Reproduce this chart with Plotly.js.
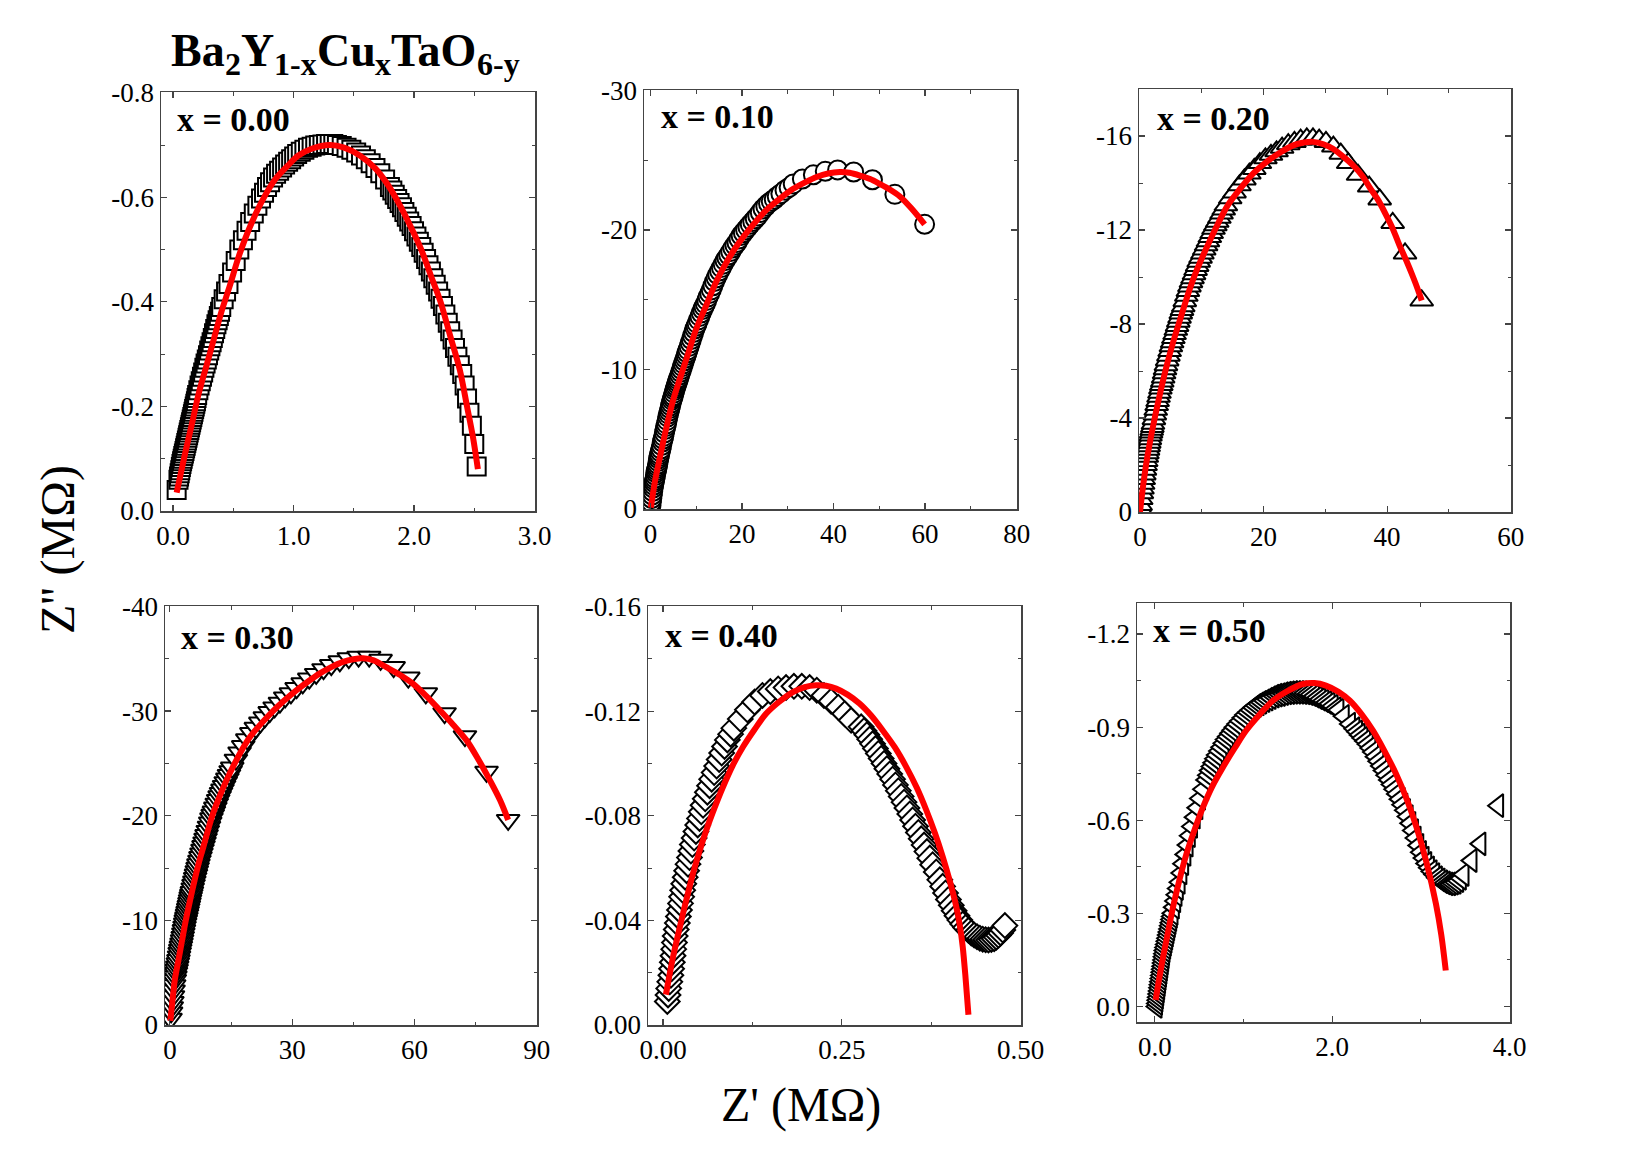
<!DOCTYPE html>
<html><head><meta charset="utf-8">
<script src="https://cdn.plot.ly/plotly-3.0.1.min.js"></script>
<style>html,body{margin:0;padding:0;background:#fff;}#chart{width:1644px;height:1149px;}</style>
</head><body><div id="chart"></div>
<script>
// ---------- DATA, [Z', Z''] pairs in MOhm ----------
// x = 0.00 measured points
const pts1=[[0.03,-0.040],[0.045,-0.060],[0.05,-0.066],[0.055,-0.072],[0.06,-0.078],[0.065,-0.084],[0.07,-0.09],[0.075,-0.095],[0.08,-0.10],[0.085,-0.105],[0.09,-0.11],[0.095,-0.115],[0.10,-0.12],[0.105,-0.125],[0.11,-0.13],[0.115,-0.135],[0.12,-0.14],[0.125,-0.145],[0.13,-0.15],[0.135,-0.155],[0.14,-0.16],[0.145,-0.165],[0.15,-0.17],[0.155,-0.175],[0.16,-0.18],[0.165,-0.185],[0.17,-0.19],[0.175,-0.195],[0.18,-0.20],[0.185,-0.205],[0.19,-0.21],[0.195,-0.216],[0.20,-0.222],[0.21,-0.231],[0.22,-0.24],[0.23,-0.248],[0.24,-0.257],[0.25,-0.265],[0.26,-0.274],[0.27,-0.282],[0.28,-0.29],[0.29,-0.298],[0.30,-0.307],[0.31,-0.315],[0.32,-0.323],[0.33,-0.331],[0.34,-0.34],[0.35,-0.348],[0.36,-0.357],[0.37,-0.365],[0.38,-0.373],[0.39,-0.381],[0.40,-0.39],[0.42,-0.405],[0.44,-0.42],[0.46,-0.434],[0.49,-0.456],[0.52,-0.478],[0.55,-0.50],[0.58,-0.518],[0.61,-0.536],[0.64,-0.553],[0.67,-0.569],[0.70,-0.584],[0.73,-0.598],[0.755,-0.609],[0.78,-0.62],[0.805,-0.629],[0.83,-0.638],[0.855,-0.645],[0.88,-0.651],[0.905,-0.657],[0.93,-0.663],[0.955,-0.668],[0.98,-0.673],[1.005,-0.678],[1.03,-0.683],[1.06,-0.687],[1.09,-0.691],[1.12,-0.695],[1.15,-0.697],[1.18,-0.699],[1.21,-0.700],[1.24,-0.701],[1.27,-0.702],[1.30,-0.702],[1.33,-0.702],[1.36,-0.700],[1.40,-0.698],[1.44,-0.695],[1.48,-0.691],[1.52,-0.686],[1.56,-0.680],[1.60,-0.673],[1.64,-0.665],[1.68,-0.656],[1.72,-0.646],[1.76,-0.634],[1.80,-0.620],[1.82,-0.613],[1.84,-0.605],[1.86,-0.597],[1.88,-0.589],[1.90,-0.581],[1.92,-0.572],[1.94,-0.563],[1.96,-0.554],[1.98,-0.545],[2.00,-0.535],[2.02,-0.525],[2.04,-0.515],[2.06,-0.505],[2.08,-0.494],[2.10,-0.482],[2.12,-0.47],[2.14,-0.458],[2.16,-0.445],[2.18,-0.433],[2.20,-0.42],[2.22,-0.406],[2.24,-0.392],[2.26,-0.376],[2.28,-0.36],[2.30,-0.344],[2.32,-0.328],[2.34,-0.312],[2.36,-0.295],[2.38,-0.279],[2.40,-0.262],[2.42,-0.24],[2.44,-0.215],[2.46,-0.188],[2.48,-0.163],[2.50,-0.128],[2.52,-0.085]];
// x = 0.00 fitted curve
const f1x=[0.03,0.10,0.16,0.213,0.28,0.34,0.40,0.47,0.55,0.65,0.755,0.85,0.95,1.04,1.15,1.30,1.42,1.55,1.68,1.78,1.87,1.97,2.06,2.14,2.22,2.30,2.38,2.44,2.49,2.53];
const f1y=[-0.035,-0.11,-0.17,-0.225,-0.28,-0.33,-0.38,-0.43,-0.49,-0.55,-0.60,-0.635,-0.66,-0.68,-0.693,-0.70,-0.695,-0.68,-0.655,-0.625,-0.59,-0.545,-0.50,-0.45,-0.40,-0.335,-0.27,-0.20,-0.14,-0.08];

// x = 0.10
const pts2=[[0.1,-0.25],[0.2,-0.5],[0.3,-0.75],[0.4,-1.0],[0.5,-1.25],[0.6,-1.5],[0.7,-1.7],[0.8,-1.9],[0.9,-2.05],[1.0,-2.2],[1.1,-2.4],[1.2,-2.6],[1.3,-2.75],[1.4,-2.9],[1.5,-3.05],[1.6,-3.2],[1.7,-3.4],[1.8,-3.6],[1.9,-3.75],[2.0,-3.9],[2.15,-4.1],[2.3,-4.3],[2.45,-4.55],[2.6,-4.8],[2.75,-5.0],[2.9,-5.2],[3.05,-5.45],[3.2,-5.7],[3.35,-5.9],[3.5,-6.1],[3.65,-6.35],[3.8,-6.6],[3.95,-6.8],[4.1,-7.0],[4.25,-7.2],[4.4,-7.4],[4.55,-7.6],[4.7,-7.8],[4.85,-7.95],[5.0,-8.1],[5.15,-8.3],[5.3,-8.5],[5.45,-8.65],[5.6,-8.8],[5.75,-8.95],[5.9,-9.1],[6.05,-9.25],[6.2,-9.4],[6.4,-9.6],[6.6,-9.8],[6.8,-10.0],[7.0,-10.2],[7.2,-10.4],[7.4,-10.6],[7.6,-10.8],[7.8,-11.0],[8.0,-11.2],[8.2,-11.4],[8.45,-11.65],[8.7,-11.9],[8.95,-12.15],[9.2,-12.4],[9.45,-12.65],[9.7,-12.9],[9.95,-13.1],[10.2,-13.3],[10.5,-13.55],[10.8,-13.8],[11.1,-14.05],[11.4,-14.3],[11.7,-14.5],[12.0,-14.7],[12.3,-14.95],[12.6,-15.2],[12.95,-15.45],[13.3,-15.7],[13.65,-16.0],[14.0,-16.3],[14.35,-16.55],[14.7,-16.8],[15.1,-17.05],[15.5,-17.3],[15.9,-17.55],[16.3,-17.8],[16.7,-18.0],[17.1,-18.2],[17.55,-18.45],[18.0,-18.7],[18.45,-18.9],[18.9,-19.1],[19.35,-19.35],[19.8,-19.6],[20.3,-19.8],[20.8,-20.0],[21.3,-20.2],[21.8,-20.4],[22.35,-20.6],[22.9,-20.8],[23.45,-21.0],[24.0,-21.25],[24.6,-21.5],[25.2,-21.7],[25.8,-21.9],[26.4,-22.05],[27.05,-22.2],[27.7,-22.4],[28.5,-22.6],[29.4,-22.85],[30.3,-23.05],[31.2,-23.3],[33.2,-23.65],[35.6,-23.95],[38.2,-24.2],[40.9,-24.3],[44.4,-24.15],[48.5,-23.6],[53.4,-22.55],[59.9,-20.4]];
const f2x=[0.1,1,2,3.5,5,6.4,8,10,12,14.4,17,19.5,22.5,25.4,28.5,31.2,34,36.3,38.8,41.4,43.5,45.8,48,50.1,52.3,54.5,57,59.9];
const f2y=[-0.1,-2.0,-3.6,-5.85,-7.85,-9.3,-10.9,-12.9,-14.45,-16.3,-17.9,-19.15,-20.4,-21.45,-22.3,-22.95,-23.45,-23.8,-24.05,-24.15,-24.1,-23.9,-23.65,-23.3,-22.9,-22.4,-21.55,-20.4];

// x = 0.20
const pts3=[[0.05,-0.15],[0.1,-0.3],[0.2,-0.55],[0.3,-0.8],[0.4,-1.0],[0.5,-1.2],[0.6,-1.4],[0.7,-1.6],[0.8,-1.8],[0.9,-2.0],[1.0,-2.17],[1.1,-2.35],[1.2,-2.5],[1.3,-2.65],[1.4,-2.8],[1.5,-2.95],[1.6,-3.1],[1.7,-3.25],[1.8,-3.38],[1.9,-3.5],[2.0,-3.62],[2.1,-3.75],[2.25,-3.95],[2.4,-4.15],[2.55,-4.35],[2.7,-4.55],[2.85,-4.72],[3.0,-4.9],[3.15,-5.07],[3.3,-5.25],[3.45,-5.4],[3.6,-5.55],[3.75,-5.72],[3.9,-5.9],[4.05,-6.07],[4.2,-6.25],[4.4,-6.45],[4.6,-6.65],[4.8,-6.85],[5.0,-7.05],[5.2,-7.22],[5.4,-7.4],[5.6,-7.57],[5.8,-7.75],[6.0,-7.92],[6.2,-8.1],[6.4,-8.27],[6.6,-8.45],[6.8,-8.6],[7.0,-8.75],[7.25,-8.97],[7.5,-9.2],[7.75,-9.4],[8.0,-9.6],[8.25,-9.78],[8.5,-9.95],[8.75,-10.12],[9.0,-10.3],[9.25,-10.47],[9.5,-10.65],[9.8,-10.82],[10.1,-11.0],[10.4,-11.17],[10.7,-11.35],[11.0,-11.52],[11.3,-11.7],[11.6,-11.87],[11.9,-12.05],[12.2,-12.2],[12.5,-12.35],[12.85,-12.52],[13.2,-12.7],[13.55,-12.87],[13.9,-13.05],[14.6,-13.35],[15.3,-13.6],[16.1,-13.9],[16.9,-14.15],[17.7,-14.4],[18.5,-14.6],[19.4,-14.85],[20.3,-15.05],[21.2,-15.2],[22.1,-15.35],[23.0,-15.5],[24.0,-15.65],[25.0,-15.75],[26.0,-15.85],[27.0,-15.9],[28.0,-15.9],[29.0,-15.85],[30.1,-15.75],[31.3,-15.55],[32.5,-15.25],[33.7,-14.85],[35.3,-14.35],[37.1,-13.85],[38.8,-13.3],[40.9,-12.3],[42.9,-11.0],[45.6,-9.0]];
const f3x=[0,0.5,1.1,2.0,3.0,4.3,5.5,6.5,8,9.2,10.7,12.4,14.2,16.2,18.3,20.5,22.7,24.8,26.5,28.0,29.7,31.3,33,34.5,36,37.2,38.6,39.9,41,42,43.1,44.2,45,45.6];
const f3y=[0,-1.1,-2.2,-3.5,-4.75,-6.2,-7.35,-8.2,-9.45,-10.3,-11.2,-12.15,-13.05,-13.75,-14.4,-14.9,-15.3,-15.6,-15.72,-15.75,-15.65,-15.45,-15.1,-14.75,-14.3,-13.8,-13.25,-12.6,-12.0,-11.35,-10.7,-10.0,-9.45,-9.0];

// x = 0.30
const pts4=[[0.15,-0.6],[0.3,-1.2],[0.45,-1.7],[0.6,-2.2],[0.75,-2.75],[0.9,-3.3],[1.05,-3.8],[1.2,-4.3],[1.35,-4.65],[1.5,-5.0],[1.65,-5.3],[1.8,-5.6],[1.95,-5.9],[2.1,-6.2],[2.25,-6.55],[2.4,-6.9],[2.55,-7.2],[2.7,-7.5],[2.85,-7.8],[3.0,-8.1],[3.15,-8.42],[3.3,-8.75],[3.45,-9.07],[3.6,-9.4],[3.75,-9.7],[3.9,-10.0],[4.05,-10.27],[4.2,-10.55],[4.35,-10.82],[4.5,-11.1],[4.65,-11.37],[4.8,-11.65],[4.95,-11.92],[5.1,-12.2],[5.25,-12.45],[5.4,-12.7],[5.6,-13.05],[5.8,-13.4],[6.0,-13.72],[6.2,-14.05],[6.4,-14.37],[6.6,-14.7],[6.8,-15.02],[7.0,-15.35],[7.25,-15.7],[7.5,-16.05],[7.75,-16.4],[8.0,-16.75],[8.25,-17.1],[8.5,-17.45],[8.75,-17.8],[9.0,-18.15],[9.3,-18.55],[9.6,-18.95],[9.9,-19.35],[10.2,-19.75],[10.5,-20.08],[10.8,-20.4],[11.15,-20.78],[11.5,-21.15],[11.85,-21.5],[12.2,-21.85],[12.55,-22.17],[12.9,-22.5],[13.3,-22.85],[13.7,-23.2],[14.1,-23.55],[14.5,-23.9],[14.9,-24.25],[15.3,-24.6],[16.2,-25.35],[17.1,-26.05],[18.0,-26.65],[19.0,-27.3],[20.0,-27.9],[21.1,-28.4],[22.2,-28.9],[23.3,-29.4],[24.5,-29.9],[25.7,-30.35],[27.0,-30.8],[28.3,-31.3],[29.7,-31.7],[31.1,-32.2],[32.6,-32.65],[34.2,-33.1],[35.9,-33.55],[37.7,-34.0],[39.6,-34.4],[41.7,-34.75],[43.9,-35.05],[46.3,-35.2],[48.9,-35.2],[51.7,-34.9],[54.9,-34.2],[58.5,-33.2],[62.8,-31.7],[67.4,-29.8],[72.4,-27.6],[77.7,-24.2],[83.0,-19.6]];
const f4x=[0.1,0.6,1.2,2.0,2.9,3.9,5.0,6.1,7.1,8.2,9.3,10.4,12.1,13.9,15.9,17.7,19.6,22.4,25.3,28.2,31.1,34.0,36.8,39.6,42.5,45.0,47.4,50.0,53.1,56.5,59.7,63.0,66.2,69.5,72.8,75.8,78.5,81.0,83.0];
const f4y=[-0.4,-2.2,-4.3,-6.0,-7.9,-10.0,-12.0,-13.9,-15.5,-17.0,-18.55,-20.0,-21.75,-23.4,-25.0,-26.3,-27.5,-28.8,-30.0,-31.05,-32.0,-32.85,-33.6,-34.2,-34.7,-34.95,-35.05,-34.85,-34.2,-33.45,-32.6,-31.4,-30.1,-28.7,-27.2,-25.3,-23.4,-21.5,-19.6];

// x = 0.40
const pts5=[[0.006,-0.009],[0.007,-0.0115],[0.008,-0.014],[0.0095,-0.0165],[0.011,-0.019],[0.012,-0.0215],[0.013,-0.024],[0.014,-0.0265],[0.015,-0.029],[0.016,-0.0315],[0.017,-0.034],[0.0185,-0.0365],[0.020,-0.039],[0.0215,-0.0415],[0.023,-0.044],[0.0245,-0.0465],[0.026,-0.049],[0.0275,-0.0515],[0.029,-0.054],[0.031,-0.0565],[0.033,-0.059],[0.035,-0.0615],[0.037,-0.064],[0.039,-0.0665],[0.041,-0.069],[0.0435,-0.0715],[0.046,-0.074],[0.0485,-0.0765],[0.051,-0.079],[0.0535,-0.0815],[0.056,-0.084],[0.059,-0.0865],[0.062,-0.089],[0.065,-0.0915],[0.068,-0.094],[0.0715,-0.0965],[0.075,-0.099],[0.0785,-0.1015],[0.082,-0.104],[0.086,-0.1065],[0.090,-0.109],[0.0945,-0.1112],[0.099,-0.1135],[0.108,-0.117],[0.118,-0.1205],[0.128,-0.1235],[0.139,-0.126],[0.150,-0.1275],[0.161,-0.1285],[0.172,-0.129],[0.183,-0.1295],[0.194,-0.1295],[0.205,-0.129],[0.215,-0.128],[0.225,-0.126],[0.235,-0.1238],[0.245,-0.1215],[0.254,-0.119],[0.263,-0.1165],[0.277,-0.114],[0.281,-0.1125],[0.285,-0.111],[0.289,-0.1093],[0.293,-0.1075],[0.297,-0.1057],[0.301,-0.1038],[0.305,-0.1019],[0.309,-0.100],[0.313,-0.098],[0.317,-0.096],[0.321,-0.094],[0.325,-0.0918],[0.329,-0.0896],[0.333,-0.0874],[0.337,-0.0852],[0.341,-0.083],[0.345,-0.0807],[0.349,-0.0784],[0.353,-0.076],[0.357,-0.0736],[0.361,-0.0712],[0.365,-0.0688],[0.369,-0.0663],[0.373,-0.0638],[0.377,-0.0613],[0.382,-0.0585],[0.387,-0.0555],[0.391,-0.053],[0.395,-0.0505],[0.399,-0.048],[0.403,-0.0458],[0.407,-0.0437],[0.411,-0.0418],[0.415,-0.0401],[0.419,-0.0386],[0.423,-0.0373],[0.427,-0.0362],[0.431,-0.0352],[0.435,-0.0344],[0.439,-0.0337],[0.443,-0.0332],[0.447,-0.0328],[0.451,-0.0326],[0.455,-0.0325],[0.459,-0.0327],[0.463,-0.033],[0.466,-0.0336],[0.469,-0.0343],[0.472,-0.0352],[0.475,-0.0363],[0.478,-0.038]];
const f5x=[0.004,0.009,0.014,0.021,0.028,0.035,0.042,0.051,0.0605,0.072,0.0838,0.097,0.1117,0.128,0.144,0.162,0.1816,0.198,0.214,0.228,0.242,0.258,0.2747,0.291,0.307,0.324,0.34,0.355,0.368,0.38,0.391,0.401,0.41,0.415,0.419,0.423,0.427];
const f5y=[-0.0116,-0.019,-0.026,-0.0345,-0.0427,-0.0505,-0.058,-0.0665,-0.0745,-0.083,-0.091,-0.099,-0.1063,-0.113,-0.119,-0.1235,-0.1273,-0.1292,-0.1299,-0.1297,-0.1286,-0.1263,-0.1229,-0.1183,-0.1127,-0.1062,-0.0987,-0.0906,-0.0822,-0.0735,-0.0644,-0.055,-0.0453,-0.038,-0.030,-0.018,-0.0039];

// x = 0.50
const pts6=[[0.020,0.0],[0.025,-0.01],[0.030,-0.02],[0.035,-0.03],[0.040,-0.04],[0.045,-0.05],[0.050,-0.06],[0.055,-0.07],[0.060,-0.08],[0.065,-0.09],[0.070,-0.10],[0.075,-0.11],[0.080,-0.12],[0.085,-0.13],[0.090,-0.14],[0.095,-0.15],[0.100,-0.16],[0.105,-0.17],[0.110,-0.18],[0.1175,-0.19],[0.125,-0.20],[0.1325,-0.21],[0.140,-0.22],[0.1475,-0.23],[0.155,-0.24],[0.1625,-0.25],[0.170,-0.26],[0.1775,-0.27],[0.185,-0.28],[0.1925,-0.29],[0.200,-0.30],[0.215,-0.32],[0.23,-0.34],[0.245,-0.36],[0.26,-0.38],[0.28,-0.40],[0.30,-0.43],[0.32,-0.46],[0.345,-0.49],[0.37,-0.52],[0.395,-0.55],[0.42,-0.58],[0.45,-0.61],[0.48,-0.64],[0.51,-0.67],[0.545,-0.70],[0.58,-0.73],[0.60,-0.745],[0.62,-0.76],[0.64,-0.773],[0.66,-0.785],[0.68,-0.798],[0.70,-0.81],[0.725,-0.823],[0.75,-0.835],[0.775,-0.848],[0.80,-0.86],[0.825,-0.87],[0.85,-0.88],[0.875,-0.89],[0.90,-0.90],[0.93,-0.91],[0.96,-0.92],[0.99,-0.93],[1.02,-0.94],[1.05,-0.948],[1.08,-0.955],[1.11,-0.963],[1.14,-0.97],[1.17,-0.975],[1.20,-0.98],[1.235,-0.985],[1.27,-0.99],[1.305,-0.995],[1.34,-1.00],[1.375,-1.003],[1.41,-1.005],[1.445,-1.008],[1.48,-1.01],[1.515,-1.011],[1.55,-1.012],[1.585,-1.012],[1.62,-1.012],[1.655,-1.011],[1.69,-1.01],[1.725,-1.008],[1.76,-1.005],[1.795,-1.0],[1.83,-0.995],[1.865,-0.99],[1.90,-0.985],[1.935,-0.98],[1.97,-0.975],[2.005,-0.968],[2.04,-0.96],[2.07,-0.955],[2.13,-0.935],[2.20,-0.91],[2.25,-0.895],[2.28,-0.885],[2.31,-0.875],[2.34,-0.865],[2.37,-0.855],[2.40,-0.845],[2.43,-0.833],[2.46,-0.82],[2.49,-0.805],[2.52,-0.79],[2.55,-0.775],[2.58,-0.76],[2.61,-0.745],[2.64,-0.73],[2.67,-0.715],[2.70,-0.70],[2.73,-0.685],[2.76,-0.668],[2.79,-0.65],[2.82,-0.632],[2.85,-0.612],[2.88,-0.59],[2.91,-0.567],[2.94,-0.543],[2.97,-0.519],[3.00,-0.497],[3.03,-0.478],[3.06,-0.461],[3.09,-0.447],[3.12,-0.435],[3.15,-0.425],[3.18,-0.415],[3.21,-0.408],[3.24,-0.402],[3.27,-0.398],[3.30,-0.395],[3.33,-0.395],[3.36,-0.397],[3.39,-0.40],[3.42,-0.405],[3.45,-0.413],[3.48,-0.425],[3.57,-0.47],[3.67,-0.524],[3.87,-0.647]];
const f6x=[0.011,0.05,0.094,0.15,0.206,0.28,0.356,0.45,0.544,0.65,0.769,0.9,1.03,1.18,1.33,1.5,1.67,1.8,1.93,2.07,2.2,2.33,2.46,2.59,2.72,2.84,2.95,3.06,3.17,3.23,3.28];
const f6y=[-0.021,-0.09,-0.159,-0.24,-0.32,-0.41,-0.49,-0.57,-0.642,-0.71,-0.771,-0.832,-0.889,-0.94,-0.985,-1.017,-1.039,-1.042,-1.034,-1.014,-0.985,-0.942,-0.889,-0.823,-0.749,-0.668,-0.578,-0.467,-0.33,-0.23,-0.116];

// tick labels
const tx1=[0,1,2,3], tx1Text=['0.0','1.0','2.0','3.0'];
const ty1=[0,-0.2,-0.4,-0.6,-0.8], ty1Text=['0.0','-0.2','-0.4','-0.6','-0.8'];
const tx2=[0,20,40,60,80], tx2Text=['0','20','40','60','80'];
const ty2=[0,-10,-20,-30], ty2Text=['0','-10','-20','-30'];
const tx3=[0,20,40,60], tx3Text=['0','20','40','60'];
const ty3=[0,-4,-8,-12,-16], ty3Text=['0','-4','-8','-12','-16'];
const tx4=[0,30,60,90], tx4Text=['0','30','60','90'];
const ty4=[0,-10,-20,-30,-40], ty4Text=['0','-10','-20','-30','-40'];
const tx5=[0,0.25,0.5], tx5Text=['0.00','0.25','0.50'];
const ty5=[0,-0.04,-0.08,-0.12,-0.16], ty5Text=['0.00','-0.04','-0.08','-0.12','-0.16'];
const tx6=[0,2,4], tx6Text=['0.0','2.0','4.0'];
const ty6=[0,-0.3,-0.6,-0.9,-1.2], ty6Text=['0.0','-0.3','-0.6','-0.9','-1.2'];

const panelLabels=['x = 0.00','x = 0.10','x = 0.20','x = 0.30','x = 0.40','x = 0.50'];
// chemical formula Ba2Y1-xCuxTaO6-y : text pieces and whether each is a subscript
const titleParts=['Ba','2','Y','1-x','Cu','x','TaO','6-y'];
const titleIsSub=[false,true,false,true,false,true,false,true];
const xTitle="Z' (M\u03A9)";
const yTitle="Z'' (M\u03A9)";

// ---------- LAYOUT ----------
const W=1644,H=1149;
const FONT='"Liberation Serif","Times New Roman",Times,serif';
const colX=a=>a.map(v=>v[0]), colY=a=>a.map(v=>v[1]);
const panels=[
 {pts:pts1,fx:f1x,fy:f1y,sym:'square',size:18,box:[161,535,92,511],xr:[-0.1,3.004],yr:[0,-0.8015],xt:tx1,xtt:tx1Text,yt:ty1,ytt:ty1Text,xm:0.5,ym:0.1,lab:[175,131]},
 {pts:pts2,fx:f2x,fy:f2y,sym:'circle',size:19,box:[644,1017,90,509],xr:[-1.4,80.08],yr:[0,-30.03],xt:tx2,xtt:tx2Text,yt:ty2,ytt:ty2Text,xm:10,ym:5,lab:[659,129]},
 {pts:pts3,fx:f3x,fy:f3y,sym:'triangle-up',size:20,box:[1139,1511,89,512],xr:[-0.16,60.05],yr:[0,-18],xt:tx3,xtt:tx3Text,yt:ty3,ytt:ty3Text,xm:10,ym:2,lab:[1155,130]},
 {pts:pts4,fx:f4x,fy:f4y,sym:'triangle-down',size:20,box:[165,537,606,1025],xr:[-1.2,90.08],yr:[0,-40.04],xt:tx4,xtt:tx4Text,yt:ty4,ytt:ty4Text,xm:15,ym:5,lab:[179,649]},
 {pts:pts5,fx:f5x,fy:f5y,sym:'diamond',size:19,box:[648,1021,606,1025],xr:[-0.021,0.5005],yr:[0,-0.1602],xt:tx5,xtt:tx5Text,yt:ty5,ytt:ty5Text,xm:0.125,ym:0.02,lab:[663,647]},
 {pts:pts6,fx:f6x,fy:f6y,sym:'triangle-left',size:20,box:[1137,1510,603,1022],xr:[-0.2,4.004],yr:[0.05,-1.3],xt:tx6,xtt:tx6Text,yt:ty6,ytt:ty6Text,xm:1,ym:0.15,lab:[1151,642]}
];

const traces=[];
const layout={width:W,height:H,margin:{l:0,r:0,t:0,b:0},paper_bgcolor:'#fff',plot_bgcolor:'#fff',showlegend:false,annotations:[]};
const AX='#444';
panels.forEach((p,i)=>{
  const s=i===0?'':String(i+1);
  traces.push({type:'scatter',mode:'markers',x:colX(p.pts),y:colY(p.pts),xaxis:'x'+s,yaxis:'y'+s,
    marker:{symbol:p.sym,size:p.size,color:'#fff',line:{color:'#000',width:2.0}},hoverinfo:'skip'});
  traces.push({type:'scatter',mode:'lines',x:p.fx,y:p.fy,xaxis:'x'+s,yaxis:'y'+s,
    line:{color:'#ff0000',width:6,shape:'spline',smoothing:0.9},hoverinfo:'skip'});
  const common={showline:true,mirror:'allticks',linecolor:AX,linewidth:1.5,ticks:'inside',ticklen:6,tickwidth:1.2,tickcolor:AX,
    tickmode:'array',tickfont:{family:FONT,size:27,color:'#000'},showgrid:false,zeroline:false,fixedrange:true};
  layout['xaxis'+s]=Object.assign({},common,{domain:[p.box[0]/W,p.box[1]/W],range:p.xr,anchor:'y'+s,tickvals:p.xt,ticktext:p.xtt,
    minor:{tickmode:'linear',tick0:0,dtick:p.xm,ticks:'inside',ticklen:3.5,tickwidth:1,tickcolor:AX,showgrid:false}});
  layout['yaxis'+s]=Object.assign({},common,{domain:[1-p.box[3]/H,1-p.box[2]/H],range:p.yr,anchor:'x'+s,tickvals:p.yt,ticktext:p.ytt,
    minor:{tickmode:'linear',tick0:0,dtick:p.ym,ticks:'inside',ticklen:3.5,tickwidth:1,tickcolor:AX,showgrid:false}});
  layout.annotations.push({xref:'paper',yref:'paper',x:p.lab[0]/W,y:1-(p.lab[1]-12)/H,xanchor:'left',yanchor:'middle',
    text:'<b>'+panelLabels[i]+'</b>',showarrow:false,font:{family:FONT,size:34,color:'#000'}});
});

// title: main pieces and subscripts placed side by side (widths measured with the same font)
const ctx=document.createElement('canvas').getContext('2d');
let penX=171;
titleParts.forEach((t,k)=>{
  const sub=titleIsSub[k], fs=sub?32:46;
  ctx.font='bold '+fs+'px "Liberation Serif"';
  const w=ctx.measureText(t).width;
  layout.annotations.push({xref:'paper',yref:'paper',x:penX/W,y:1-(sub?64:50)/H,xanchor:'left',yanchor:'middle',
    text:'<b>'+t+'</b>',showarrow:false,borderpad:0,borderwidth:0,font:{family:FONT,size:fs,color:'#000'}});
  penX+=w;
});
layout.annotations.push({xref:'paper',yref:'paper',x:801/W,y:1-1105/H,xanchor:'center',yanchor:'middle',
  text:xTitle,showarrow:false,font:{family:FONT,size:48,color:'#000'}});
layout.annotations.push({xref:'paper',yref:'paper',x:58/W,y:1-550/H,xanchor:'center',yanchor:'middle',textangle:-90,
  text:yTitle,showarrow:false,font:{family:FONT,size:48,color:'#000'}});

Plotly.newPlot('chart',traces,layout,{staticPlot:true,displayModeBar:false});
</script></body></html>
